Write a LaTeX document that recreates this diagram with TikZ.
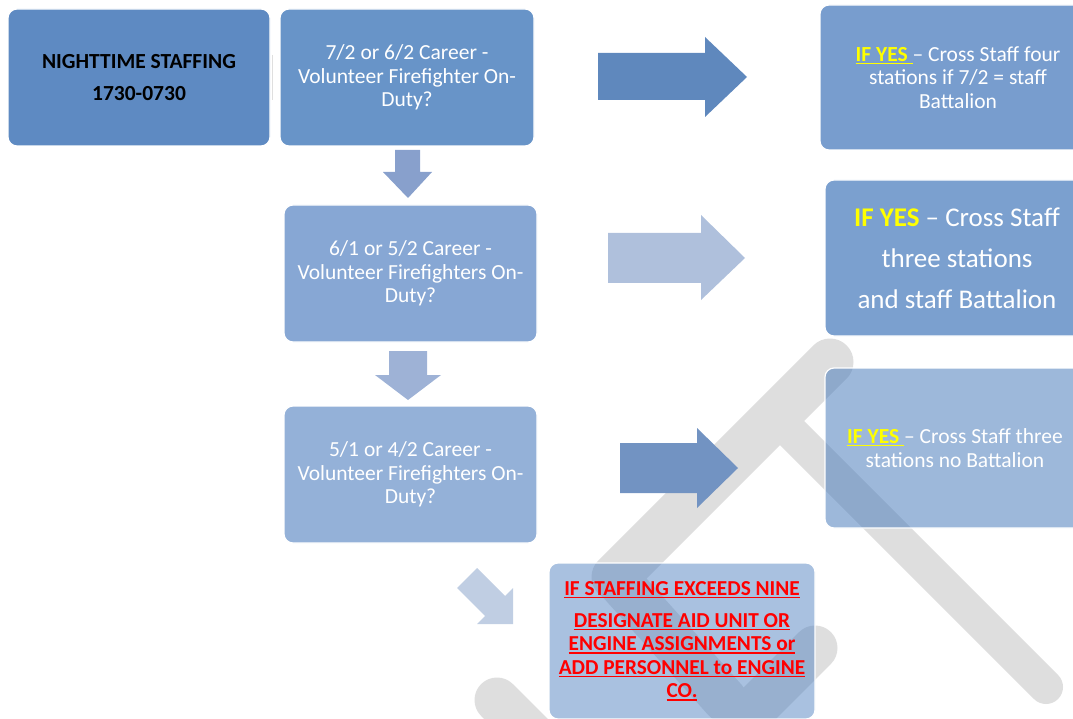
\documentclass[tikz,border=0pt]{standalone}
\usepackage{fontspec}
\setmainfont{Carlito}
\definecolor{c1}{HTML}{5E8AC2}
\definecolor{c2}{HTML}{6894C8}
\definecolor{c3}{HTML}{789DCE}
\definecolor{c4}{HTML}{87A7D4}
\definecolor{c5}{HTML}{7BA0CF}
\definecolor{c6}{HTML}{94B1D8}
\definecolor{c7}{RGB}{77,126,188}
\definecolor{c8}{RGB}{83,131,193}
\definecolor{a1}{HTML}{5F88BD}
\definecolor{a2}{HTML}{AFC0DC}
\definecolor{a3}{HTML}{7293C2}
\definecolor{d1}{HTML}{88A0CC}
\definecolor{d2}{HTML}{9EB2D6}
\definecolor{dg}{HTML}{C0CEE3}
\definecolor{wm}{HTML}{DEDEDE}
\definecolor{yel}{HTML}{FFFF00}
\definecolor{redt}{HTML}{FF0000}
\newcommand{\myul}[1]{\setbox0=\hbox{#1}\rlap{\rule[-2.8pt]{\wd0}{1.5pt}}\box0}
\tikzset{
  box/.style={rounded corners=9pt, draw=white, line width=1.2pt, inner sep=0pt,
    align=center, text=white, font=\fontsize{21.5}{23.5}\selectfont},
  band/.style={wm, line cap=round}
}
\begin{document}
\begin{tikzpicture}[x=1pt,y=-1pt]
\useasboundingbox (0,0) rectangle (1073,719);
\clip (0,0) rectangle (1073,719);
% watermark
\draw[band, line width=47pt] (830,362) -- (615,577);
\draw[band, line width=45pt] (615,577) -- (725,700);
\draw[band, line width=45pt] (815,648) -- (735,728);
\draw[band, line width=45pt] (497,700) -- (560,763);
\draw[band, line width=34pt] (792,433) -- (1046,687);
% boxes
\node[box, fill=c1, text=black, minimum width=262pt, minimum height=137pt,
  font=\bfseries\fontsize{21.5}{32}\selectfont] (n1) at (139,77.5)
  {NIGHTTIME STAFFING\\1730-0730};
\node[box, fill=c2, minimum width=254pt, minimum height=137pt] (n2) at (407,77.5)
  {7/2 or 6/2 Career -\\Volunteer Firefighter On-\\Duty?};
\node[box, fill=c3, minimum width=276pt, minimum height=145pt] (n3) at (958,77.5)
  {{\bfseries\color{yel}\myul{IF YES }}– Cross Staff four\\stations if 7/2 = staff\\Battalion};
\node[box, fill=c4, minimum width=253pt, minimum height=137pt] (n4) at (410.5,273.5)
  {6/1 or 5/2 Career -\\Volunteer Firefighters On-\\Duty?};
\node[box, fill=c5, minimum width=264pt, minimum height=156pt,
  font=\fontsize{27}{41}\selectfont] (n5) at (957,258)
  {{\bfseries\color{yel}IF YES} – Cross Staff\\three stations\\and staff Battalion};
\node[box, fill=c6, minimum width=253pt, minimum height=137pt] (n6) at (410.5,474.5)
  {5/1 or 4/2 Career -\\Volunteer Firefighters On-\\Duty?};
\node[box, fill=c7, fill opacity=0.55, text opacity=1, draw opacity=1,
  minimum width=260pt, minimum height=160pt] (n7) at (955,448)
  {{\bfseries\color{yel}\myul{IF YES }}– Cross Staff three\\stations no Battalion};
\node[box, fill=c8, fill opacity=0.5, text opacity=1, draw opacity=1,
  minimum width=266pt, minimum height=156pt, text=redt,
  font=\bfseries\fontsize{21.3}{23.5}\selectfont] (n8) at (682,641)
  {\myul{IF STAFFING EXCEEDS NINE}\\[8.5pt]\myul{DESIGNATE AID UNIT OR}\\
   \myul{ENGINE ASSIGNMENTS or}\\\myul{ADD PERSONNEL to ENGINE}\\\myul{CO.}};
% faint separator
\draw[gray!25, line width=1pt] (272,55) -- (272,100);
% block arrows
\fill[a1] (598,53) -- (705,53) -- (705,37) -- (747,77) -- (705,117) -- (705,100) -- (598,100) -- cycle;
\fill[a2] (608,233) -- (701,233) -- (701,215) -- (745,258) -- (701,300) -- (701,283) -- (608,283) -- cycle;
\fill[a3] (620,443) -- (697,443) -- (697,428) -- (738,468) -- (697,508) -- (697,493) -- (620,493) -- cycle;
\fill[d1] (395,150) -- (420,150) -- (420,172) -- (432,172) -- (408,198) -- (383,172) -- (395,172) -- cycle;
\fill[d2] (389,351) -- (427,351) -- (427,375) -- (441,375) -- (408,400) -- (375,375) -- (389,375) -- cycle;
\fill[dg] (477,568) -- (505,596) -- (513,588) -- (513,624) -- (477,624) -- (485,616) -- (457,588) -- cycle;
\end{tikzpicture}
\end{document}
